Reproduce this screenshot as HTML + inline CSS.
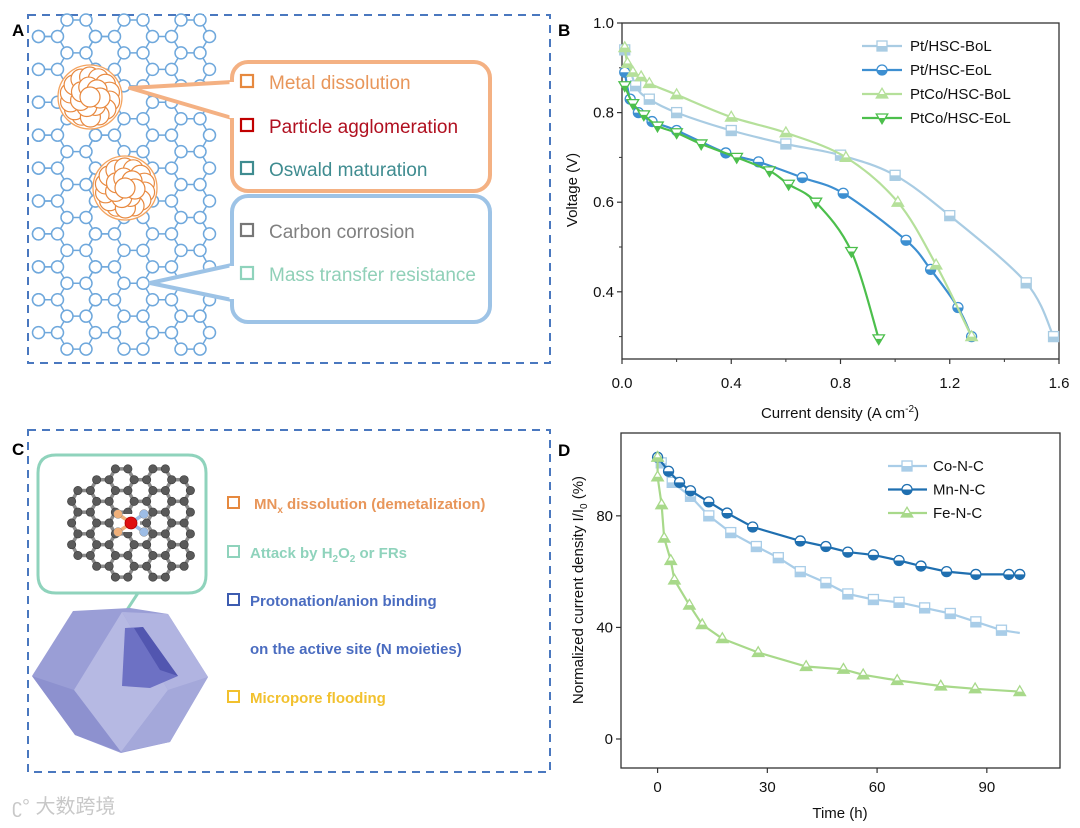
<!DOCTYPE html>
<html><head><meta charset="utf-8">
<style>
html,body{margin:0;padding:0;background:#fff;}
svg{display:block;font-family:"Liberation Sans","Noto Sans CJK SC",sans-serif;}
</style></head>
<body>
<svg id="fig" width="1080" height="828" viewBox="0 0 1080 828" xmlns="http://www.w3.org/2000/svg">
  <rect width="1080" height="828" fill="#fff"/>
  <!-- Panel A -->
  <g id="panelA">
    <rect x="28" y="15" width="522" height="348" fill="none" stroke="#4a78bf" stroke-width="2" stroke-dasharray="8,6"/>
    <text x="12" y="36" font-size="17" font-weight="bold" fill="#000">A</text>
    <g id="grapheneA"></g>
    <g id="particles"></g>
    <path d="M130,88 L232,82 L232,118 Z" fill="#fff" stroke="#f4b183" stroke-width="4" stroke-linejoin="round"/>
    <rect x="232" y="62" width="258" height="129" rx="16" fill="#fff" stroke="#f4b183" stroke-width="4"/>
    <path d="M232,82 L232,118" stroke="#fff" stroke-width="5"/>
    <path d="M150,283 L232,265 L232,300 Z" fill="#fff" stroke="#9dc3e6" stroke-width="4" stroke-linejoin="round"/>
    <rect x="232" y="196" width="258" height="126" rx="16" fill="#fff" stroke="#9dc3e6" stroke-width="4"/>
    <path d="M232,266 L232,299" stroke="#fff" stroke-width="5"/>
    <g font-size="19">
      <rect x="241" y="75" width="12" height="12" fill="none" stroke="#e6893f" stroke-width="2.2"/>
      <text x="269" y="89" fill="#e8965a">Metal dissolution</text>
      <rect x="241" y="119" width="12" height="12" fill="none" stroke="#c00000" stroke-width="2.2"/>
      <text x="269" y="133" fill="#b01020">Particle agglomeration</text>
      <rect x="241" y="162" width="12" height="12" fill="none" stroke="#3f8c90" stroke-width="2.2"/>
      <text x="269" y="176" fill="#3f8c90">Oswald maturation</text>
      <rect x="241" y="224" width="12" height="12" fill="none" stroke="#777" stroke-width="2.2"/>
      <text x="269" y="238" fill="#808080">Carbon corrosion</text>
      <rect x="241" y="267" width="12" height="12" fill="none" stroke="#8fd3bc" stroke-width="2.2"/>
      <text x="269" y="281" fill="#90d0b8">Mass transfer resistance</text>
    </g>
  </g>

  <!-- Panel C -->
  <g id="panelC">
    <rect x="28" y="430" width="522" height="342" fill="none" stroke="#4a78bf" stroke-width="2" stroke-dasharray="8,6"/>
    <text x="12" y="455" font-size="17" font-weight="bold" fill="#000">C</text>
    <path d="M125,613 L138,593 L160,593" fill="none" stroke="#8fd3bc" stroke-width="3"/>
    <path d="M160,593 L188,593 Q206,593 206,575 L206,473 Q206,455 188,455 L56,455 Q38,455 38,473 L38,575 Q38,593 56,593 L138,593" fill="none" stroke="#8fd3bc" stroke-width="3"/>
    <g id="molecule"></g>
    <g>
      <polygon points="73,611 130,608 168,614 208,677 170,742 121,753 75,735 32,676" fill="#9a9ed6"/>
      <polygon points="122,612 74,690 121,752 168,690" fill="#b6b9e3"/>
      <polygon points="32,676 74,690 121,752 75,735" fill="#8d91cf"/>
      <polygon points="168,690 208,677 170,742 121,752" fill="#a4a8da"/>
      <polygon points="122,612 168,614 208,677 168,690" fill="#b1b4e1"/>
      <polygon points="125,628 143,627 178,676 150,688 122,686" fill="#6d71c4"/>
      <polygon points="134,628 143,627 178,676 160,670" fill="#5256b0"/>
    </g>
    <g font-size="15" font-weight="bold">
      <rect x="228" y="497" width="11" height="11" fill="none" stroke="#e6893f" stroke-width="2"/>
      <text x="254" y="509" fill="#e8965a">MN<tspan font-size="10" dy="4">x</tspan><tspan dy="-4"> dissolution (demetalization)</tspan></text>
      <rect x="228" y="546" width="11" height="11" fill="none" stroke="#8fd3bc" stroke-width="2"/>
      <text x="250" y="558" fill="#8fd3bc">Attack by H<tspan font-size="10" dy="4">2</tspan><tspan dy="-4">O</tspan><tspan font-size="10" dy="4">2</tspan><tspan dy="-4"> or FRs</tspan></text>
      <rect x="228" y="594" width="11" height="11" fill="none" stroke="#3d5cb0" stroke-width="2"/>
      <text x="250" y="606" fill="#4a6cc0">Protonation/anion binding</text>
      <text x="250" y="654" fill="#4a6cc0">on the active site (N moieties)</text>
      <rect x="228" y="691" width="11" height="11" fill="none" stroke="#f2c12e" stroke-width="2"/>
      <text x="250" y="703" fill="#f2c12e">Micropore flooding</text>
    </g>
    <text x="12" y="813" font-size="20" fill="#c8c8c8">ʗ° 大数跨境</text>
  </g>

  <!-- Panel B -->
  <g id="panelB">
    <text x="558" y="36" font-size="17" font-weight="bold" fill="#000">B</text>
  </g>
  <!-- Panel D -->
  <g id="panelD">
    <text x="558" y="456" font-size="17" font-weight="bold" fill="#000">D</text>
  </g>
</svg>
<script>
// ---- Chart B data ----
const bSeriesNames = ["Pt/HSC-BoL","Pt/HSC-EoL","PtCo/HSC-BoL","PtCo/HSC-EoL"];
const bPtBoLX = [0.01,0.05,0.1,0.2,0.4,0.6,0.8,1.0,1.2,1.48,1.58];
const bPtBoLY = [0.94,0.86,0.83,0.80,0.76,0.73,0.705,0.66,0.57,0.42,0.30];
const bPtEoLX = [0.01,0.03,0.06,0.11,0.2,0.38,0.5,0.66,0.81,1.04,1.13,1.23,1.28];
const bPtEoLY = [0.89,0.83,0.80,0.78,0.76,0.71,0.69,0.655,0.62,0.515,0.45,0.365,0.30];
const bPtCoBoLX = [0.01,0.02,0.04,0.07,0.1,0.2,0.4,0.6,0.82,1.01,1.15,1.28];
const bPtCoBoLY = [0.945,0.91,0.89,0.88,0.865,0.84,0.79,0.755,0.70,0.60,0.46,0.30];
const bPtCoEoLX = [0.01,0.04,0.08,0.13,0.2,0.29,0.42,0.54,0.61,0.71,0.84,0.94];
const bPtCoEoLY = [0.86,0.82,0.795,0.77,0.755,0.73,0.70,0.67,0.64,0.60,0.49,0.295];
const bXTicks = [0,0.4,0.8,1.2,1.6];
const bXTickLabels = ["0.0","0.4","0.8","1.2","1.6"];
const bYTicks = [0.4,0.6,0.8,1.0];
const bYTickLabels = ["0.4","0.6","0.8","1.0"];
// ---- Chart D data ----
const dSeriesNames = ["Co-N-C","Mn-N-C","Fe-N-C"];
const dCoX = [1,4,9,14,20,27,33,39,46,52,59,66,73,80,87,94,99];
const dCoY = [99,92,87,80,74,69,65,60,56,52,50,49,47,45,42,39,38];
const dMnX = [0,3,6,9,14,19,26,39,46,52,59,66,72,79,87,96,99];
const dMnY = [101,96,92,89,85,81,76,71,69,67,66,64,62,60,59,59,59];
const dFeX = [0,0,1.1,1.8,3.6,4.6,8.7,12.2,17.7,27.5,40.6,50.8,56.2,65.5,77.4,86.8,99];
const dFeY = [101,94,84,72,64,57,48,41,36,31,26,25,23,21,19,18,17];
const dXTicks = [0,30,60,90];
const dXTickLabels = ["0","30","60","90"];
const dYTicks = [0,40,80];
const dYTickLabels = ["0","40","80"];

const NS="http://www.w3.org/2000/svg";
function mk(tag,attrs,parent){const e=document.createElementNS(NS,tag);for(const k in attrs)e.setAttribute(k,attrs[k]);parent.appendChild(e);return e;}

// ---- Graphene lattice panel A ----
(function(){
  const g=document.getElementById('grapheneA');
  const s=19, h=Math.sqrt(3)*s;
  const verts={},edges={};
  function key(x,y){return Math.round(x)+','+Math.round(y);}
  for(let c=0;c<9;c++){for(let r=-1;r<11;r++){
    const cx=48+c*1.5*s, cy=20+r*h+(c%2?h/2:0);
    if(cx>215||cy>345) continue;
    const pts=[];for(let k=0;k<6;k++){const a=k*Math.PI/3;const x=cx+s*Math.cos(a),y=cy+s*Math.sin(a);
      if(x<36||x>224||y<14||y>350){pts.push(null);continue;} pts.push([x,y]);verts[key(x,y)]=[x,y];}
    for(let k=0;k<6;k++){const p=pts[k],q=pts[(k+1)%6];if(p&&q){const kk=[key(p[0],p[1]),key(q[0],q[1])].sort().join('|');edges[kk]=[p,q];}}
  }}
  for(const k in edges){const [p,q]=edges[k];mk('line',{x1:p[0],y1:p[1],x2:q[0],y2:q[1],stroke:'#6fa8dc','stroke-width':1.5},g);}
  for(const k in verts){const [x,y]=verts[k];mk('circle',{cx:x,cy:y,r:6,fill:'#fff',stroke:'#6fa8dc','stroke-width':1.5},g);}
  const pg=document.getElementById('particles');
  [[90,97],[125,188]].forEach(([cx,cy])=>{
    mk('circle',{cx:cx,cy:cy,r:32,fill:'#fff',stroke:'#f4a460','stroke-width':1.3},pg);
    for(let ring=2;ring>=0;ring--){const rr=ring*10, n=ring===0?1:ring*7;
      for(let i=0;i<n;i++){const a=i*2*Math.PI/n+ring;mk('circle',{cx:cx+rr*Math.cos(a),cy:cy+rr*Math.sin(a),r:10,fill:'#fff',stroke:'#e8893f','stroke-width':1.2},pg);}}
  });
})();

// ---- Molecule panel C ----
(function(){
  const g=document.getElementById('molecule');
  const s=12.5,h=Math.sqrt(3)*s, cx0=131, cy0=523;
  const verts={},edges={};
  function key(x,y){return Math.round(x*2)+','+Math.round(y*2);}
  for(let c=-3;c<=3;c++){for(let r=-3;r<=3;r++){
    const cx=cx0+(c+0.5)*1.5*s, cy=cy0+r*h+(Math.abs(c)%2?0:h/2);
    const dx=(cx-cx0), dy=(cy-cy0);
    if(dx*dx/(62*62)+dy*dy/(52*52)>1) continue;
    const pts=[];for(let k=0;k<6;k++){const a=k*Math.PI/3;pts.push([cx+s*Math.cos(a),cy+s*Math.sin(a)]);}
    pts.forEach(p=>verts[key(p[0],p[1])]=p);
    for(let k=0;k<6;k++){const p=pts[k],q=pts[(k+1)%6];const kk=[key(p[0],p[1]),key(q[0],q[1])].sort().join('|');edges[kk]=[p,q];}
  }}
  for(const k in edges){const [p,q]=edges[k];mk('line',{x1:p[0],y1:p[1],x2:q[0],y2:q[1],stroke:'#8a8a8a','stroke-width':3.5},g);}
  for(const k in verts){const [x,y]=verts[k];mk('circle',{cx:x,cy:y,r:4.2,fill:'#5a5a5a',stroke:'#3a3a3a','stroke-width':0.6},g);}
  mk('rect',{x:cx0-9,y:cy0-9,width:18,height:18,fill:'#fff'},g);
  const n=[[-13,-9,'#f0b07a'],[13,-9,'#9dbde6'],[-13,9,'#f0b07a'],[13,9,'#9dbde6']];
  n.forEach(([dx,dy,c])=>{mk('line',{x1:cx0,y1:cy0,x2:cx0+dx,y2:cy0+dy,stroke:c,'stroke-width':3.5},g);});
  n.forEach(([dx,dy,c])=>{mk('circle',{cx:cx0+dx,cy:cy0+dy,r:4.4,fill:c,stroke:'#888','stroke-width':0.5},g);});
  mk('circle',{cx:cx0,cy:cy0,r:6,fill:'#e01010',stroke:'#a00','stroke-width':0.8},g);
})();

// ---- generic helpers ----
function spline(pts){
  let d='M'+pts[0][0]+','+pts[0][1];
  for(let i=0;i<pts.length-1;i++){const p0=pts[i-1]||pts[i],p1=pts[i],p2=pts[i+1],p3=pts[i+2]||p2;
    const c1=[p1[0]+(p2[0]-p0[0])/6,p1[1]+(p2[1]-p0[1])/6],c2=[p2[0]-(p3[0]-p1[0])/6,p2[1]-(p3[1]-p1[1])/6];
    d+=' C'+c1[0].toFixed(1)+','+c1[1].toFixed(1)+' '+c2[0].toFixed(1)+','+c2[1].toFixed(1)+' '+p2[0].toFixed(1)+','+p2[1].toFixed(1);}
  return d;
}
function marker(g,type,x,y,col,sz){
  const r=sz;let el;
  if(type==='sq'){
    el=mk('rect',{x:x-r,y:y-r,width:2*r,height:2*r,fill:'#fff',stroke:col,'stroke-width':1.3},g);
    mk('rect',{x:x-r,y:y,width:2*r,height:r,fill:col},g);
  }else if(type==='ci'){
    el=mk('circle',{cx:x,cy:y,r:r,fill:'#fff',stroke:col,'stroke-width':1.3},g);
    mk('path',{d:`M${x-r},${y} A${r},${r} 0 0 0 ${x+r},${y} Z`,fill:col},g);
  }else if(type==='tu'){
    el=mk('polygon',{points:`${x},${y-r*1.15} ${x+r*1.15},${y+r*0.8} ${x-r*1.15},${y+r*0.8}`,fill:'#fff',stroke:col,'stroke-width':1.3},g);
    mk('polygon',{points:`${x+r*0.6},${y} ${x+r*1.15},${y+r*0.8} ${x-r*1.15},${y+r*0.8} ${x-r*0.6},${y}`,fill:col},g);
  }else{
    el=mk('polygon',{points:`${x},${y+r*1.15} ${x+r*1.15},${y-r*0.8} ${x-r*1.15},${y-r*0.8}`,fill:'#fff',stroke:col,'stroke-width':1.3},g);
    mk('polygon',{points:`${x-r*0.55},${y} ${x+r*0.55},${y} ${x},${y+r*1.15}`,fill:col},g);
  }
  return el;
}
function axesFrame(g,L,T,R,B,name){
  const f=mk('rect',{x:L,y:T,width:R-L,height:B-T,fill:'none',stroke:'#333','stroke-width':1.3},g);
  
  
}

// ---- Chart B ----
(function(){
  const g=document.getElementById('panelB');
  const L=622,R=1059,T=23,B=359, x0=0,x1=1.6,y0=0.25,y1=1.0;
  const sx=v=>L+(v-x0)/(x1-x0)*(R-L), sy=v=>B-(v-y0)/(y1-y0)*(B-T);
  axesFrame(g,L,T,R,B,'chart-b-plot-area');
  bXTicks.forEach((t,i)=>{
    const ln=mk('line',{x1:sx(t),y1:B,x2:sx(t),y2:B+5,stroke:'#333','stroke-width':1.2},g);
    
    const tx=mk('text',{x:sx(t),y:B+29,'font-size':15,'text-anchor':'middle',fill:'#111'},g);tx.textContent=bXTickLabels[i];
    
    if(i<bXTicks.length-1){mk('line',{x1:sx(t+0.2),y1:B,x2:sx(t+0.2),y2:B+3,stroke:'#333','stroke-width':1},g);}
  });
  bYTicks.forEach((t,i)=>{
    const ln=mk('line',{x1:L-5,y1:sy(t),x2:L,y2:sy(t),stroke:'#333','stroke-width':1.2},g);
    
    const tx=mk('text',{x:L-8,y:sy(t)+5,'font-size':15,'text-anchor':'end',fill:'#111'},g);tx.textContent=bYTickLabels[i];
    
    mk('line',{x1:L-3,y1:sy(t-0.1),x2:L,y2:sy(t-0.1),stroke:'#333','stroke-width':1},g);
  });
  const xt=mk('text',{x:840,y:418,'font-size':15,'text-anchor':'middle',fill:'#111'},g);
  xt.innerHTML='Current density (A cm<tspan font-size="10" dy="-6">-2</tspan><tspan dy="6">)</tspan>';
  
  const yt=mk('text',{x:0,y:0,'font-size':15,'text-anchor':'middle',fill:'#111',transform:'translate(577,190) rotate(-90)'},g);
  yt.textContent='Voltage (V)';
  
  const series=[[bPtBoLX,bPtBoLY,'#a9cce3','sq'],[bPtEoLX,bPtEoLY,'#3d8fd1','ci'],[bPtCoBoLX,bPtCoBoLY,'#b5e09a','tu'],[bPtCoEoLX,bPtCoEoLY,'#4cbf4c','td']];
  series.forEach(([xs,ys,col,mt],si)=>{
    const sg=mk('g',{},g);
    
    
    const pts=xs.map((x,i)=>[sx(x),sy(ys[i])]);
    const p=mk('path',{d:spline(pts),fill:'none',stroke:col,'stroke-width':2.2},sg);
    
    pts.forEach(pt=>{const m=marker(sg,mt,pt[0],pt[1],col,5);
      });
    const ly=46+si*24;
    const lg=mk('g',{},g);
    
    mk('line',{x1:862,y1:ly,x2:902,y2:ly,stroke:col,'stroke-width':2.2},lg);
    marker(lg,mt,882,ly,col,5);
    const t=mk('text',{x:910,y:ly+5,'font-size':15,fill:'#111'},lg);t.textContent=bSeriesNames[si];
  });
})();

// ---- Chart D ----
(function(){
  const g=document.getElementById('panelD');
  const L=621,R=1060,T=433,B=768, x0=-10,x1=110,y0=-10.4,y1=109.7;
  const sx=v=>L+(v-x0)/(x1-x0)*(R-L), sy=v=>B-(v-y0)/(y1-y0)*(B-T);
  axesFrame(g,L,T,R,B,'chart-d-plot-area');
  dXTicks.forEach((t,i)=>{
    const ln=mk('line',{x1:sx(t),y1:B,x2:sx(t),y2:B+5,stroke:'#333','stroke-width':1.2},g);
    
    const tx=mk('text',{x:sx(t),y:B+24,'font-size':15,'text-anchor':'middle',fill:'#111'},g);tx.textContent=dXTickLabels[i];
    
  });
  dYTicks.forEach((t,i)=>{
    const ln=mk('line',{x1:L-5,y1:sy(t),x2:L,y2:sy(t),stroke:'#333','stroke-width':1.2},g);
    
    const tx=mk('text',{x:L-8,y:sy(t)+5,'font-size':15,'text-anchor':'end',fill:'#111'},g);tx.textContent=dYTickLabels[i];
    
  });
  const xt=mk('text',{x:840,y:818,'font-size':15,'text-anchor':'middle',fill:'#111'},g);xt.textContent='Time (h)';
  
  const yt=mk('text',{x:0,y:0,'font-size':15,'text-anchor':'middle',fill:'#111',transform:'translate(583,590) rotate(-90)'},g);
  yt.innerHTML='Normalized current density I/I<tspan font-size="10" dy="4">0</tspan><tspan dy="-4"> (%)</tspan>';
  
  const series=[[dCoX,dCoY,'#a9cde8','sq'],[dMnX,dMnY,'#1f6fb0','ci'],[dFeX,dFeY,'#a8d98a','tu']];
  series.forEach(([xs,ys,col,mt],si)=>{
    const sg=mk('g',{},g);
    
    
    const pts=xs.map((x,i)=>[sx(x),sy(ys[i])]);
    const p=mk('polyline',{points:pts.map(q=>q[0].toFixed(1)+','+q[1].toFixed(1)).join(' '),fill:'none',stroke:col,'stroke-width':2.2},sg);
    
    pts.forEach((pt,i)=>{ if(si===0&&i===pts.length-1) return;
      const m=marker(sg,mt,pt[0],pt[1],col,5);
      });
    const ly=466+si*23.5;
    const lg=mk('g',{},g);
    
    mk('line',{x1:888,y1:ly,x2:927,y2:ly,stroke:col,'stroke-width':2.2},lg);
    marker(lg,mt,907,ly,col,5);
    const t=mk('text',{x:933,y:ly+5,'font-size':15,fill:'#111'},lg);t.textContent=dSeriesNames[si];
  });
})();
</script>
</body></html>
